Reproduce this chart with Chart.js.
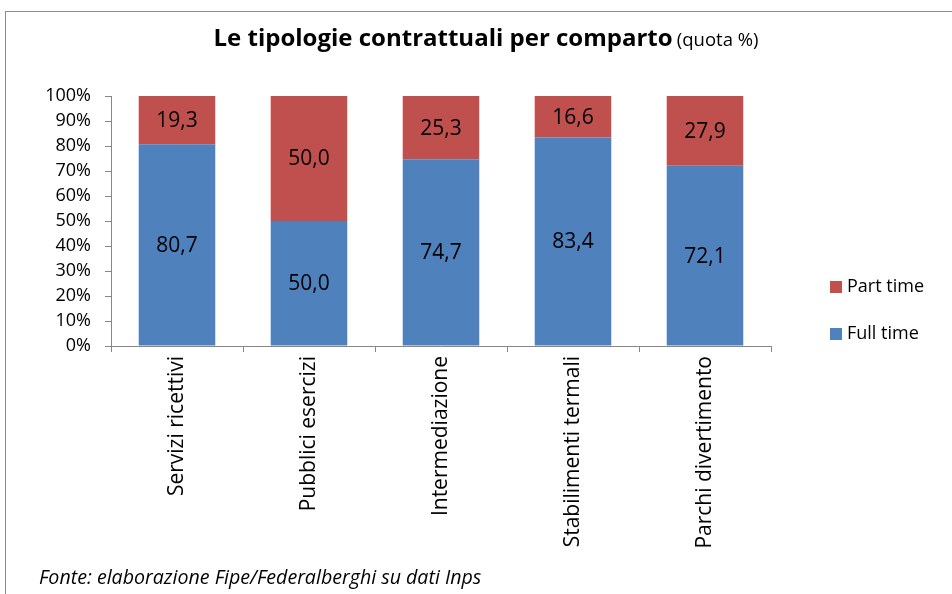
<!DOCTYPE html>
<html>
<head>
<meta charset="utf-8">
<script src="https://cdn.jsdelivr.net/npm/chart.js@4/dist/chart.umd.min.js"></script>
<style>
  html, body { margin: 0; padding: 0; background: #fff; }
  #wrap { position: relative; width: 952px; height: 594px; overflow: hidden; background: #fff; }
  #frame { position: absolute; left: 5px; top: 11px; right: -5px; bottom: -5px;
           border-left: 1px solid #8c8c8c; border-top: 1px solid #8c8c8c; }
  #title { position: absolute; left: 0; width: 972px; top: 20px; text-align: center;
           font-family: "Open Sans", sans-serif; color: #000; white-space: nowrap; line-height: 34px; }
  #title b { font-size: 24px; font-weight: 700; }
  #title span { font-size: 18.5px; }
  #source { position: absolute; left: 39px; top: 564px; font-family: "Open Sans", sans-serif;
            font-style: italic; font-size: 19.6px; color: #000; white-space: nowrap; line-height: 26px; }
  canvas { position: absolute; left: 0; top: 0; }
</style>
</head>
<body>
<div id="wrap">
  <div id="frame"></div>
  <canvas id="c" width="952" height="594"></canvas>
  <div id="title"><b>Le tipologie contrattuali per comparto</b> <span>(quota %)</span></div>
  <div id="source">Fonte: elaborazione Fipe/Federalberghi su dati Inps</div>
</div>
<script>
const categories = ["Servizi ricettivi", "Pubblici esercizi", "Intermediazione", "Stabilimenti termali", "Parchi divertimento"];
const fullTime = [80.7, 50.0, 74.7, 83.4, 72.1];
const partTime = [19.3, 50.0, 25.3, 16.6, 27.9];
const seriesNames = ["Full time", "Part time"];
const yTicks = [0, 10, 20, 30, 40, 50, 60, 70, 80, 90, 100];

const FONT = '"Open Sans", sans-serif';

const valueLabels = {
  id: 'valueLabels',
  afterDatasetsDraw(chart) {
    const ctx = chart.ctx;
    ctx.save();
    ctx.font = '21px ' + FONT;
    ctx.fillStyle = '#000';
    ctx.textAlign = 'center';
    ctx.textBaseline = 'middle';
    chart.data.datasets.forEach((ds, di) => {
      const meta = chart.getDatasetMeta(di);
      meta.data.forEach((el, i) => {
        const p = el.getProps(['x', 'y', 'base'], true);
        const txt = ds.data[i].toFixed(1).replace('.', ',');
        ctx.fillText(txt, p.x, (p.y + p.base) / 2 + 1);
      });
    });
    ctx.restore();
  }
};

const sideLegend = {
  id: 'sideLegend',
  afterDraw(chart) {
    const ctx = chart.ctx;
    ctx.save();
    ctx.font = '18px ' + FONT;
    ctx.textBaseline = 'middle';
    ctx.textAlign = 'left';
    const items = chart.data.datasets.slice().reverse();
    items.forEach((ds, k) => {
      const cy = 287 + k * 47;
      ctx.fillStyle = ds.backgroundColor;
      ctx.fillRect(830, cy - 6, 12, 12);
      ctx.fillStyle = '#000';
      ctx.fillText(ds.label, 847, cy);
    });
    ctx.restore();
  }
};

new Chart(document.getElementById('c'), {
  type: 'bar',
  data: {
    labels: categories,
    datasets: [
      { label: seriesNames[0], data: fullTime, backgroundColor: '#4F81BD', barPercentage: 0.58, categoryPercentage: 1.0 },
      { label: seriesNames[1], data: partTime, backgroundColor: '#C0504D', barPercentage: 0.58, categoryPercentage: 1.0 }
    ]
  },
  options: {
    responsive: false,
    animation: false,
    events: [],
    layout: { padding: { left: 0, right: 181, top: 96, bottom: 0 } },
    plugins: { legend: { display: false }, title: { display: false }, tooltip: { enabled: false } },
    scales: {
      x: {
        stacked: true,
        afterFit(scale) { scale.height = 248; },
        border: { color: '#868686', width: 1 },
        grid: { display: true, drawOnChartArea: false, drawTicks: true, tickLength: 6, color: '#868686', offset: true },
        ticks: { color: '#000', font: { family: FONT, size: 21 }, minRotation: 90, maxRotation: 90, autoSkip: false, padding: 4 }
      },
      y: {
        stacked: true,
        min: 0, max: 100,
        afterFit(scale) { scale.width = 111; },
        afterBuildTicks(scale) { scale.ticks = yTicks.map(v => ({ value: v })); },
        border: { color: '#868686', width: 1 },
        grid: { display: true, drawOnChartArea: false, drawTicks: true, tickLength: 6, color: '#868686' },
        ticks: { color: '#000', font: { family: FONT, size: 18 }, padding: 14, autoSkip: false, callback: v => v + '%' }
      }
    }
  },
  plugins: [valueLabels, sideLegend]
});
</script>
</body>
</html>
